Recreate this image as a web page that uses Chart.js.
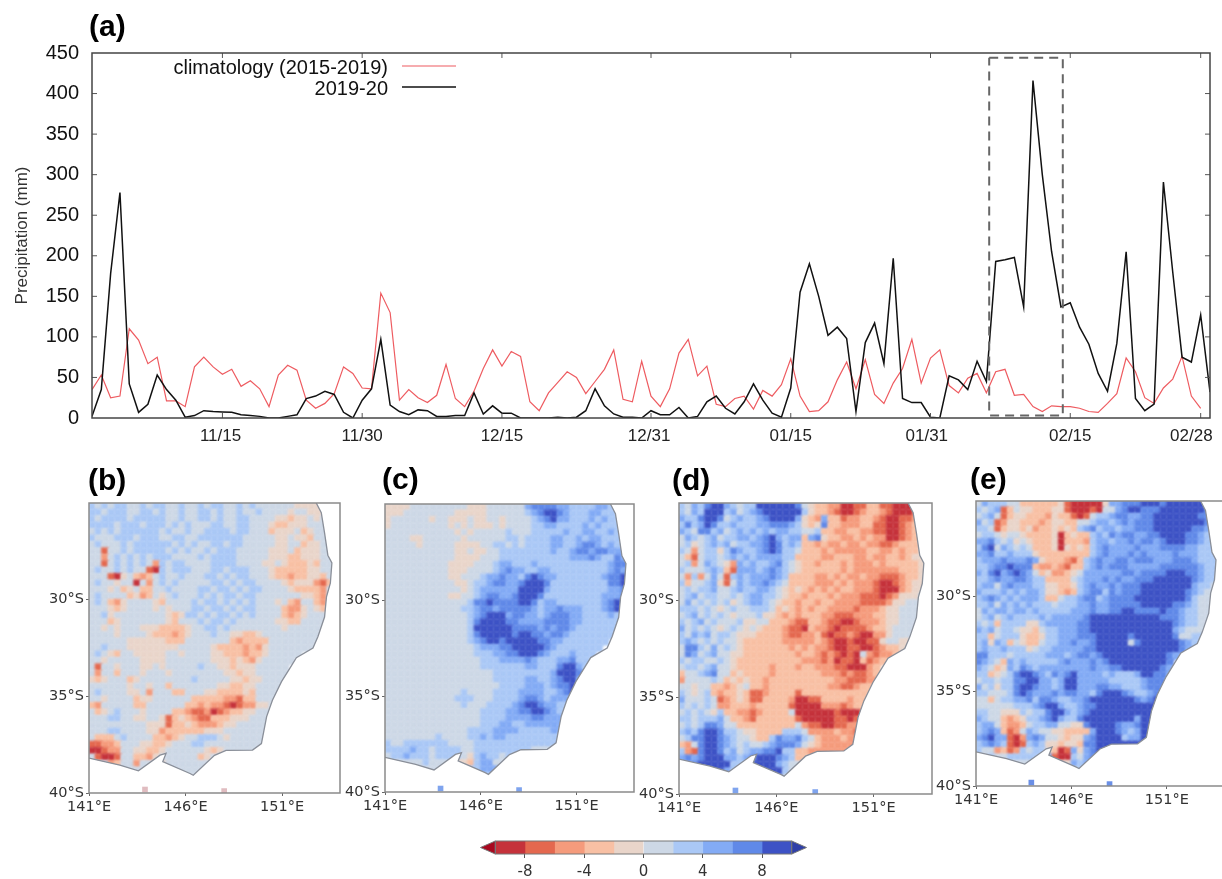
<!DOCTYPE html>
<html>
<head>
<meta charset="utf-8">
<title>Precipitation 2019-20</title>
<script src="https://cdn.jsdelivr.net/npm/chart.js@4/dist/chart.umd.min.js"></script>
<style>
  html, body { margin: 0; padding: 0; background: #fff; overflow: hidden; width: 1222px; height: 879px; }
  canvas { position: absolute; }
</style>
</head>
<body>
<script>
// daily rainfall, index 0 = Nov 1
const climatology = [35,53,25,27,110,96,67,75,21,21,14,63,75,63,54,60,39,46,36,14,53,65,59,22,12,18,30,63,55,37,36,154,130,22,35,25,19,28,66,24,14,33,61,84,64,82,76,20,9,31,44,57,50,30,45,60,84,23,20,70,27,14,36,80,97,52,64,17,14,24,27,11,34,27,41,73,27,8,9,20,47,69,36,72,29,18,43,61,97,43,74,84,40,31,49,55,31,57,60,28,29,14,8,15,14,14,12,8,7,18,30,74,57,25,18,37,48,76,27,12];
const season2019 = [2,35,178,278,42,7,17,53,35,22,1,3,9,8,7.5,7,4,3,2,0,0,2,4,24,27,33,29,7,0,22,36,97,16,8,4,10,9,2,2,3,3,31,5,15,6,6,0,0,0,0,1,0,1,9,36,15,5,1,1,0,9,4,4,13,0,2,20,27,12,5,20,42,22,6,1,37,155,190,150,102,112,98,8,93,117,67,197,24,19,19,1,0,52,47,35,70,45,193,195,198,137,416,300,205,137,142,112,91,55,33,92,205,24,9,17,291,180,75,69,127,32];
const dateTickIndex = [14,29,44,60,75,90,105,119];
const dateLabelIndex = [13.8,29,44,59.8,75,89.6,105,118];
const dateTickLabels = ['11/15','11/30','12/15','12/31','01/15','01/31','02/15','02/28'];
const precipTicks = [0,50,100,150,200,250,300,350,400,450];
const boxDays = [96.3,104.2,104.2,96.3,96.3];
const boxMm = [444,444,3,3,444];

// colour bar
const levelEdges = [-10,-8,-6,-4,-2,0,2,4,6,8,10];
const levelColors = ['#c5323b','#e4684f','#f59b7c','#f8c0a4','#e9d5ca','#cdd8e6','#aac8f6','#83abf5','#6089e8','#3d52c5'];
const barTicks = [-8,-4,0,4,8];

// coast, lon / lat south
const coastLon = [152.77,153.03,153.2,153.37,153.58,153.5,153.3,153.2,152.86,152.6,151.74,151.4,150.97,150.5,150.2,149.93,149.47,148.1,147.5,146.4,146.23,144.82,144.99,144.68,143.56,142.6,141];
const coastLat = [25,25.5,26.55,27.7,28.1,29.15,29.85,30.9,31.9,32.5,33,33.55,34.24,35.2,36.05,37.44,37.78,37.8,38.05,39.08,38.99,38.38,37.95,38.04,38.85,38.56,38.2];
const islandLon = [143.9,148];
const islandLat = [39.82,39.9];
const lonTicks = [141,146,151];
const latTicks = [30,35,40];

// level per cell (0-9 into levelColors), 1/3 degree cells, from 141E 25S, grouped by 10 columns
const mapB = [
'6565665565 6655655656 6556565555 55444445','6656665566 5655655665 6556556555 54554445','6566665666 6655655665 6556655554 43445455',
'6666566656 6656565556 6556655543 34445555','5656566666 6565565566 6656655534 44534555','6555666566 6556655666 6666555554 45443555',
'5655565666 6665656556 6566555554 45534455','5515565666 6656565565 6665555544 45344455','5525656565 6665555656 6665555544 43344455',
'5515656565 2656655556 6665555445 43334355','5655656551 0656665556 6566655543 33334455','5551045323 5655655566 5656655543 32334435',
'5655455052 5656555556 6565665555 43444213','5554534533 5565555665 6656566555 54333325','5655553423 5456555656 5665665555 55544325',
'5653245555 4355556566 5656565554 53255325','5554345555 4545556656 6565665555 32245435','5564555555 5543466565 6656565555 32345555',
'5553455555 5543555656 6565555554 43355555','5545455544 4333345566 5655555555 45555555','5555455554 3332345556 5544334555 55555555',
'5555554444 4433355555 5532333355 55555555','5565554444 4444555554 3333232455 5555555','5654355444 4455455554 4333233455 555',
'5545555544 4455555554 4434324555 55','5155455544 5455555655 4434445555 5','5255355545 5545555555 5443445555 5',
'4345553455 5555556555 5544344555 5','5555554554 5535555555 4433445555','5655554452 5553355544 3333435555',
'5545555344 5555553333 3221335555','3255555335 5555533232 2101224455','5345655545 5553321120 1233445555',
'5556655445 5413432113 3344455555','5555555554 4413343222 3445555555','5556655554 4233333344 4555555555',
'5333565555 3323455666 5455555555','1122355544 3345556655 5555555555','0012255443 3455555543 4555555555',
'5100155332 4555555345 55','5552355255 5455555555','5555555555 5555555555','5555555555 5555555'];
const mapC = [
'4444555555 5554445555 5578888776 66677666','4445555555 5444445555 5567899876 66776666','4555555455 4445445545 5556789776 66767666',
'4555555555 4545444545 5556677666 67676666','5555555555 5454555556 5556666676 67766766','5555445555 5545555556 6566667766 76776666',
'5555545555 5444455665 6566667766 78876766','5555555555 5445445566 6666667667 88788777','5555555555 5444455566 6666666667 77876687',
'5555555555 4444555677 6667666666 66666788','5555555555 4445555678 7766776666 66666787','5555555555 4455567787 7689877666 66667889',
'5555555555 5445667887 7899986666 66666889','5555555555 5545677777 7999976666 66666778','5555555555 4455678877 8999866666 66667778',
'5555555555 5556889888 8998677666 66667897','5555555555 5566788788 8887677877 76667897','5555555555 5556789997 8877678887 76666766',
'5555555555 5556899998 8777788887 76666666','5555555555 5556999999 8888787887 66666666','5555555555 5556899999 8998878876 66666666',
'5555555555 5556789989 9999887766 66666','5555555555 5555677788 9999987666 6666','5555555555 5555666778 8999876667 666',
'5555555555 5555566677 7787666778 66','5555555555 5555566666 6677666899 76','5555555555 5555555666 6666667999 8',
'5555555555 5555555666 6677667899 7','5555555555 5555555566 6677767889 9','5555555555 5565555666 6777766789 8',
'5555555555 5666555666 6788767776','5555555555 5565556666 7899877666','5555555555 5555566667 7889987666',
'5555555555 5555566667 7778877766','5555555555 5555566677 6677777766','5555555555 5556666777 7666667766',
'5555555565 5556676776 6666666666','6556666666 5555666666 6666666666','6666766566 6655666666 6665555555',
'5667666566 6654676656 55','5555556555 6443677555','5555555555 5556677777','5555555555 5566666'];
const mapD = [
'6576899765 6699999985 4332200113 31100033','6576999675 6789999996 4332100123 32100013','7668998567 6678999974 3273312233 21001123',
'6867986676 6677888764 3483322233 11001233','7658867567 6767677665 5633223322 11001233','5765675667 7678976773 7843322323 22001233',
'5645676756 6778986763 3232232232 21123334','6525664687 6678986653 3323222223 32232334','5315665676 7677776633 3322333223 22332344',
'5625765427 6766786543 3233323222 32333334','6555676317 7767876543 3333323222 22223334','5262575167 6777876333 3223232232 21112334',
'6355674157 6778765333 3222323222 10012344','5656675567 6677654343 2323233222 10002344','5675665565 6776654332 3332322211 10124445',
'5756565645 6776543323 3233222211 11244555','6665654565 5666534323 2332222122 23445555','5675656545 5564432323 3322111222 33445555',
'6567565556 4455333211 3321100122 23445555','7565654565 4543332110 3221011112 33455554','6576756654 4433332112 2310112100 22455554',
'6765656554 3333332222 2321001001 1455444','5886575654 3333333232 3221001100 1233444','5875675544 3333333323 3212101052 1223',
'6566556543 3333333332 2212011031 23','5665675543 3333233323 3222110002 3','3556785534 3333233333 3322212112 3',
'2555565343 4332333333 3333221112 2','5545533234 5332333333 3332211233','6545632334 3112333313 3333333333',
'7555651234 3113333200 1133332333','6565652233 3233333100 0022212333','5656546332 2123333500 0000100023',
'6656667533 2133333310 0000110112','5656887553 3333333352 1100112222','6768998665 4433336665 2222322123',
'5688998765 5433687786 5322232223','3258998765 6556788875 4322222123','6218998675 6778896633 2222222233',
'7878999776 7899987633 33','7789999966 6999976555','5578899765 6799996555','5555555555 5699985'];
const mapE = [
'5766655333 3334100000 4778889998 99999987','6567135443 3344100010 5578998889 99999987','5675134433 3243310156 6788778899 99999887',
'7561244333 2344335567 7678788899 99999987','6651344342 3343436786 7767788899 99998877','5665455433 3340343367 6878877889 99988766',
'7786564543 3340333267 7677878878 99988766','6895765653 3340434367 8777787778 88877666','7786676664 3333333367 8777878777 78777666',
'6777877787 4333213678 7788788877 78887666','6678898883 2232133678 7888777778 88888766','7689789875 3422345777 7778878888 99988766',
'6678778876 6333356777 8787788899 99998766','6775787776 6443346787 7878889999 99997665','7666767677 6443236788 6878889999 99987655',
'6787676777 6335667886 7888899999 99986555','6675767676 6656667787 7888889999 98876555','5767767767 6666677787 7889988889 88766555',
'5675676666 7677777899 9999999998 88766555','6563666644 6777778899 9999999999 98766555','7675665443 5667778899 9999999999 97655566',
'6635666433 4667778889 9999899999 9855666','6747635433 5667787789 9999589999 9987666','6766766645 6677777889 9999999999 9987',
'8866656666 6777678878 9999999999 87','8765376766 6667877787 8999999999 8','7653476876 7777777787 7889999998 7',
'6634568998 7687897777 6766679988 7','5665668899 7767997777 7666667888 6','7564668998 7767997778 8776667888',
'6655568987 7787887768 9998766789','5535667786 8876677899 9999987899','5555556667 8997667889 9999999999',
'6655444656 6899767899 9999999999','7655323466 7897668999 9999979999','6775322356 6775544899 9987789999',
'6787312576 5544333379 9987679999','7897710278 7554344789 9996779999','6787610167 6443443889 9999999999',
'6552312656 6430174789 99','6565566666 6710065788','5566655555 5544476787','5555555555 5555556'];

function addCanvas(left, top, width, height) {
    const c = document.createElement('canvas');
    c.width = width;
    c.height = height;
    c.style.left = left + 'px';
    c.style.top = top + 'px';
    c.style.width = width + 'px';
    c.style.height = height + 'px';
    document.body.appendChild(c);
    return c.getContext('2d');
}

// frame round the plot area, panel letter
function framePlugin(color, lineWidth, label, labelX, labelY) {
    return {
        id: 'frame',
        afterDraw(chart) {
            const a = chart.chartArea, ctx = chart.ctx;
            ctx.save();
            ctx.strokeStyle = color;
            ctx.lineWidth = lineWidth;
            ctx.strokeRect(a.left, a.top, a.right - a.left, a.bottom - a.top);
            ctx.fillStyle = '#000';
            ctx.font = 'bold 30px "Liberation Sans"';
            ctx.textAlign = 'left';
            ctx.fillText(label, labelX, labelY);
            ctx.restore();
        }
    };
}

function renderRainChart() {
    const ctx = addCanvas(0, 0, 1240, 450);
    const innerTicks = {
        id: 'innerTicks',
        afterDraw(chart) {
            const { ctx, chartArea: a, scales } = chart;
            ctx.save();
            ctx.strokeStyle = '#555';
            ctx.lineWidth = 1;
            ctx.beginPath();
            precipTicks.slice(1, -1).forEach(v => {
                const y = scales.y.getPixelForValue(v);
                ctx.moveTo(a.left, y); ctx.lineTo(a.left + 5, y);
                ctx.moveTo(a.right, y); ctx.lineTo(a.right - 5, y);
            });
            dateTickIndex.forEach(v => {
                const x = scales.x.getPixelForValue(v);
                ctx.moveTo(x, a.bottom); ctx.lineTo(x, a.bottom - 5);
                ctx.moveTo(x, a.top); ctx.lineTo(x, a.top + 5);
            });
            ctx.stroke();
            ctx.restore();
        }
    };
    const legendBox = {
        id: 'legendBox',
        afterDraw(chart) {
            const c = chart.ctx;
            c.save();
            c.font = '20px "Liberation Sans"';
            c.textAlign = 'right';
            c.fillStyle = '#111';
            c.fillText('climatology (2015-2019)', 388, 74);
            c.fillText('2019-20', 388, 95);
            c.lineWidth = 1.2;
            c.strokeStyle = '#ee5b60';
            c.beginPath(); c.moveTo(402, 66); c.lineTo(456, 66); c.stroke();
            c.lineWidth = 1.5;
            c.strokeStyle = '#111';
            c.beginPath(); c.moveTo(402, 87); c.lineTo(456, 87); c.stroke();
            c.restore();
        }
    };
    new Chart(ctx, {
        type: 'scatter',
        data: {
            datasets: [
                { label: '2019-20', data: season2019.map((v, i) => ({ x: i, y: v })), showLine: true, borderColor: '#111', borderWidth: 1.5, pointRadius: 0, order: 1 },
                { label: 'climatology (2015-2019)', data: climatology.map((v, i) => ({ x: i, y: v })), showLine: true, borderColor: '#ee5b60', borderWidth: 1.2, pointRadius: 0, order: 2 },
                { label: 'box', data: boxDays.map((v, i) => ({ x: v, y: boxMm[i] })), showLine: true, borderColor: '#666', borderWidth: 2, borderDash: [9, 6], pointRadius: 0, order: 0 }
            ]
        },
        options: {
            responsive: false,
            animation: false,
            layout: { padding: { top: 53, right: 30 } },
            plugins: { legend: { display: false }, tooltip: { enabled: false } },
            scales: {
                x: {
                    type: 'linear', min: 0, max: 120,
                    afterBuildTicks: s => { s.ticks = dateLabelIndex.map(v => ({ value: v })); },
                    afterFit: s => { s.height = 32; },
                    grid: { display: false },
                    border: { display: false },
                    ticks: {
                        autoSkip: false, maxRotation: 0, padding: 0, color: '#222',
                        font: { family: '"Liberation Sans"', size: 17 },
                        callback: v => dateTickLabels[dateLabelIndex.indexOf(v)]
                    }
                },
                y: {
                    min: 0, max: 450,
                    afterBuildTicks: s => { s.ticks = precipTicks.map(v => ({ value: v })); },
                    afterFit: s => { s.width = 92; },
                    grid: { display: false },
                    border: { display: false },
                    title: { display: true, text: 'Precipitation (mm)', color: '#333', padding: { top: 12, bottom: 0 }, font: { family: '"Liberation Sans"', size: 17 } },
                    ticks: { padding: 5, color: '#111', font: { family: '"Liberation Sans"', size: 20 } }
                }
            }
        },
        plugins: [innerTicks, legendBox, framePlugin('#444', 1.5, '(a)', 89, 36)]
    });
}

function renderMap(rows, frame, label, labelX, labelY, islandColor) {
    const cells = [], colors = [];
    rows.forEach((row, r) => {
        row.replace(/ /g, '').split('').forEach((lvl, c) => {
            cells.push({ x: 141 + (c + 0.5) / 3, y: -(25 + (r + 0.5) / 3) });
            colors.push(levelColors[+lvl]);
        });
    });
    const coast = coastLon.map((v, i) => ({ x: v, y: -coastLat[i] }));
    const islands = islandLon.map((v, i) => ({ x: v, y: -islandLat[i] }));

    // keep the cells on land, soften the cell edges
    const landClip = {
        id: 'landClip',
        beforeDatasetDraw(chart, args) {
            if (args.index !== 0) return;
            const { ctx, scales: { x, y } } = chart;
            ctx.save();
            ctx.beginPath();
            ctx.moveTo(x.getPixelForValue(141), y.getPixelForValue(-25));
            coast.forEach(p => ctx.lineTo(x.getPixelForValue(p.x), y.getPixelForValue(p.y)));
            ctx.closePath();
            ctx.clip();
            ctx.filter = 'blur(1px)';
        },
        afterDatasetDraw(chart, args) {
            if (args.index !== 0) return;
            chart.ctx.filter = 'none';
            chart.ctx.restore();
        }
    };

    const pad = 50, headroom = 40;
    const ctx = addCanvas(frame.left - pad, frame.top - headroom, frame.right - frame.left + pad + 20, frame.bottom - frame.top + headroom + 30);
    new Chart(ctx, {
        type: 'scatter',
        data: {
            datasets: [
                { data: cells, pointStyle: 'rect', pointRadius: 5.6, pointBorderWidth: 0, pointBackgroundColor: colors, order: 3 },
                { data: coast, showLine: true, borderColor: '#8a8f99', borderWidth: 1.3, pointRadius: 0, order: 1 },
                { data: islands, pointStyle: 'rect', pointRadius: 4, pointBorderWidth: 0, pointBackgroundColor: islandColor, order: 2 }
            ]
        },
        options: {
            responsive: false,
            animation: false,
            layout: { padding: { top: headroom, right: 20 } },
            plugins: { legend: { display: false }, tooltip: { enabled: false } },
            scales: {
                x: {
                    type: 'linear', min: 141, max: 154,
                    afterBuildTicks: s => { s.ticks = lonTicks.map(v => ({ value: v })); },
                    afterFit: s => { s.height = 30; },
                    grid: { drawOnChartArea: false, tickLength: 3, tickColor: '#666' },
                    border: { display: false },
                    ticks: { autoSkip: false, maxRotation: 0, padding: 3, color: '#333', font: { family: '"DejaVu Sans"', size: 14.5 }, callback: v => v + '°E' }
                },
                y: {
                    min: -40, max: -25,
                    afterBuildTicks: s => { s.ticks = latTicks.map(v => ({ value: -v })); },
                    afterFit: s => { s.width = pad; },
                    grid: { drawOnChartArea: false, tickLength: 3, tickColor: '#666' },
                    border: { display: false },
                    ticks: { padding: 2, color: '#333', font: { family: '"DejaVu Sans"', size: 14.5 }, callback: v => (-v) + '°S' }
                }
            }
        },
        plugins: [landClip, framePlugin('#8a8a8a', 1.5, label, labelX - frame.left + pad, labelY - frame.top + headroom)]
    });
}

function renderColorBar() {
    const ctx = addCanvas(470, 834, 350, 45);
    const arrows = {
        id: 'arrows',
        afterDraw(chart) {
            const { ctx, chartArea: a, scales: { x } } = chart;
            const mid = (a.top + a.bottom) / 2;
            const tri = (from, tip, color) => {
                ctx.beginPath();
                ctx.moveTo(x.getPixelForValue(from), a.top);
                ctx.lineTo(x.getPixelForValue(tip), mid);
                ctx.lineTo(x.getPixelForValue(from), a.bottom);
                ctx.closePath();
                ctx.fillStyle = color;
                ctx.fill();
                ctx.stroke();
            };
            ctx.save();
            ctx.strokeStyle = '#777';
            ctx.lineWidth = 1;
            tri(-10, -11, '#a8081f');
            tri(10, 11, '#2f3fa8');
            ctx.strokeRect(x.getPixelForValue(-10), a.top, x.getPixelForValue(10) - x.getPixelForValue(-10), a.bottom - a.top);
            ctx.restore();
        }
    };
    new Chart(ctx, {
        type: 'bar',
        data: {
            labels: [''],
            datasets: levelColors.map((color, i) => ({
                data: [[levelEdges[i], levelEdges[i + 1]]],
                backgroundColor: color,
                grouped: false,
                barPercentage: 1,
                categoryPercentage: 1
            }))
        },
        options: {
            indexAxis: 'y',
            responsive: false,
            animation: false,
            layout: { padding: { top: 7, left: 10.5, right: 13.5 } },
            plugins: { legend: { display: false }, tooltip: { enabled: false } },
            scales: {
                x: {
                    type: 'linear', min: -11, max: 11,
                    afterBuildTicks: s => { s.ticks = barTicks.map(v => ({ value: v })); },
                    afterFit: s => { s.height = 25; },
                    grid: { drawOnChartArea: false, tickLength: 4, tickColor: '#555' },
                    border: { display: false },
                    ticks: { autoSkip: false, maxRotation: 0, padding: 5, color: '#333', font: { family: '"DejaVu Sans"', size: 15 }, callback: v => String(v) }
                },
                y: { display: false }
            }
        },
        plugins: [arrows]
    });
}

window.onload = function() {
    renderRainChart();
    renderMap(mapB, { left: 89, right: 340, top: 503, bottom: 793 }, '(b)', 88, 490, '#e0bcc0');
    renderMap(mapC, { left: 385, right: 634, top: 504, bottom: 792 }, '(c)', 382, 489, '#7fa4ee');
    renderMap(mapD, { left: 679, right: 932, top: 503, bottom: 794 }, '(d)', 672, 490, '#7fa4ee');
    renderMap(mapE, { left: 976, right: 1224, top: 501, bottom: 786 }, '(e)', 970, 489, '#6a8fe6');
    renderColorBar();
};
</script>
</body>
</html>
